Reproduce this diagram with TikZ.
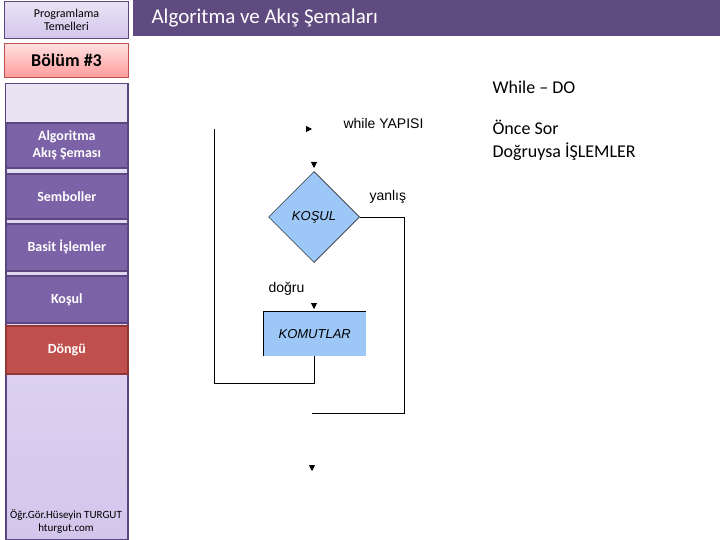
\documentclass[tikz,border=0pt]{standalone}
\usepackage{fontspec}
\setmainfont{Carlito}
\newfontfamily\arialfont{Liberation Sans}
\usetikzlibrary{arrows.meta, positioning, shapes.geometric}
\definecolor{barPurple}{HTML}{5F4B7F}
\definecolor{btnPurple}{HTML}{7C62A6}
\definecolor{btnEdge}{HTML}{5C4680}
\definecolor{paleLilac}{HTML}{E9E3F4}
\definecolor{midLilac}{HTML}{D3C6EC}
\definecolor{loopRed}{HTML}{C0504D}
\definecolor{loopEdge}{HTML}{943634}
\definecolor{pinkTop}{HTML}{FFE0E0}
\definecolor{pinkBot}{HTML}{FF9C9C}
\definecolor{flowBlue}{HTML}{9CC7F7}

\begin{document}
\begin{tikzpicture}[x=1pt, y=-1pt,
    menubtn/.style={rectangle, draw=btnEdge, line width=1.6pt, fill=#1,
                    minimum width=122pt, minimum height=45pt, anchor=north west,
                    font=\fontsize{14}{17}\selectfont\bfseries\color{white}, align=center},
    menubtn/.default=btnPurple,
    flowtxt/.style={font=\arialfont\fontsize{14}{16}\selectfont},
    link/.style={line width=0.8pt, black},
    tip/.style={-{Triangle[length=6pt, width=6pt]}, line width=0.8pt},
    side/.style={font=\fontsize{18}{23}\selectfont, anchor=west},
  ]
    \useasboundingbox (0,0) rectangle (720,540);
    \fill[white] (0,0) rectangle (720,540);

    % header
    \node[rectangle, draw=btnEdge, line width=1pt, top color=paleLilac, bottom color=midLilac,
          minimum width=124pt, minimum height=37pt, anchor=north west,
          font=\fontsize{12}{13}\selectfont, align=center] (course) at (4,1)
      {Programlama\\Temelleri};
    \node[rectangle, fill=barPurple, minimum width=587pt, minimum height=36pt,
          anchor=north west, inner sep=0pt] (bar) at (133,0) {};
    \node[anchor=west, font=\fontsize{21}{24}\selectfont\color{white}] (title) at (148,18)
      {Algoritma ve Akış Şemaları};
    \node[rectangle, draw=loopRed, line width=1pt, top color=pinkTop, bottom color=pinkBot,
          minimum width=124pt, minimum height=34pt, anchor=north west,
          font=\fontsize{18}{20}\selectfont\bfseries] (chapter) at (4,43) {Bölüm \#3};

    % side menu
    \node[rectangle, draw=btnEdge, line width=1.6pt, top color=paleLilac, bottom color=midLilac,
          minimum width=122pt, minimum height=456pt, anchor=north west] (panel) at (5,83) {};
    \fill[paleLilac] (6,84) rectangle (127,122);
    \node[menubtn] (algo) at (5,122) {Algoritma\\Akış Şeması};
    \node[menubtn] (symb) at (5,173) {Semboller};
    \node[menubtn, minimum height=47pt] (basic) at (5,223) {Basit İşlemler};
    \node[menubtn, minimum height=47pt] (cond) at (5,275) {Koşul};
    \node[menubtn=loopRed, draw=loopEdge, minimum height=48pt] (loop) at (5,325) {Döngü};
    \node[font=\fontsize{11}{13}\selectfont, align=center] (author) at (66,522)
      {Öğr.Gör.Hüseyin TURGUT\\hturgut.com};

    % flowchart
    \node[diamond, draw=black, line width=0.5pt, fill=flowBlue, minimum width=91pt,
          minimum height=91pt, inner sep=0pt, font=\arialfont\itshape\fontsize{13}{15}\selectfont]
      (kosul) at (314,217) {KOŞUL};
    \node[rectangle, fill=flowBlue, minimum width=103pt, minimum height=45pt,
          anchor=north west, inner sep=0pt, font=\arialfont\itshape\fontsize{13}{15}\selectfont]
      (komut) at (263,311) {KOMUTLAR};
    \draw[line width=0.8pt] (komut.south west) -- (komut.north west) -- (komut.north east);

    \node[flowtxt, anchor=west] (whiletxt) at (340,123) {while YAPISI};
    \node[flowtxt, anchor=west] (false) at (366,197) {yanlış};
    \node[flowtxt, anchor=west] (true) at (265,289) {doğru};

    \coordinate (entry) at (312,129);
    \coordinate (intop) at (314,168);
    \coordinate (kmtop) at (314,309);
    \coordinate (exit) at (312,471);
    \coordinate (leftup) at (214,129);
    \coordinate (rightdn) at (404,413);
    \coordinate (backend) at (312,413);

    \draw[tip] ([xshift=-1pt]entry) -- (entry);
    \draw[tip] ([yshift=1pt]intop) -- (intop);
    \draw[tip] ([yshift=1pt]kmtop) -- (kmtop);
    \draw[tip] ([yshift=1pt]exit) -- (exit);

    \draw[link] (komut.south) |- (214,383) -- (leftup);
    \draw[link] (kosul.east) -| (rightdn) -- (backend);

    % notes
    \node[side] (note1) at (489,87) {While -- DO};
    \node[side, align=left, anchor=north west] (note2) at (489,117)
      {Önce Sor\\Doğruysa İŞLEMLER};
  \end{tikzpicture}
\end{document}
